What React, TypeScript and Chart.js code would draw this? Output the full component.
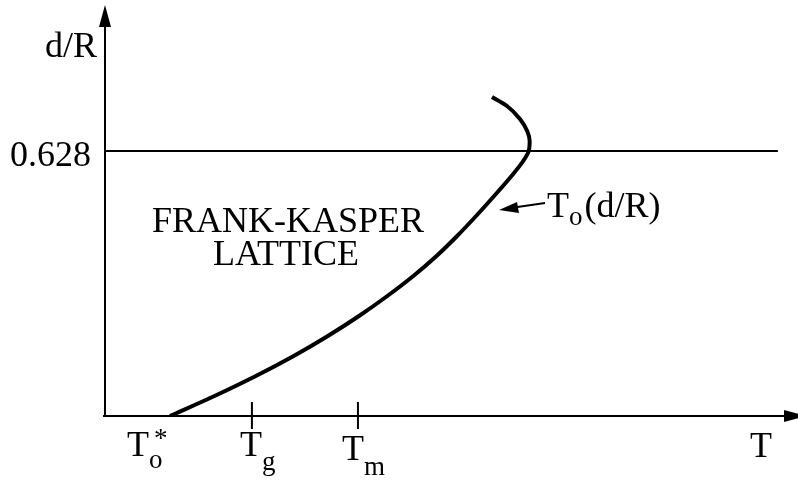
import React, { useEffect, useRef } from "react";
import { Chart, registerables } from "chart.js";

Chart.register(...registerables);

// Ordering temperature curve T_o(d/R): temperature (arbitrary units) vs. d/R
const curveT = [9.38, 15.8, 21.77, 27.23, 32.16, 36.65, 40.74, 44.49, 47.84, 50.81, 53.55, 56.15, 58.66, 60.35, 61.14, 61.28, 60.92, 59.88, 58.01, 55.84];
const curveDR = [0.0, 0.0474, 0.0948, 0.1422, 0.1896, 0.237, 0.2844, 0.3318, 0.3792, 0.4266, 0.474, 0.5214, 0.5688, 0.6043, 0.628, 0.6517, 0.6754, 0.7038, 0.7347, 0.756];

// Characteristic temperatures marked on the T axis
const tickNames = ["T_o*", "T_g", "T_m"];
const tickT = [9.38, 21.2, 36.5];
const tickMarked = [false, true, true];

// Critical ratio drawn as a horizontal line
const criticalDR = 0.628;
const criticalLabel = "0.628";

const T_MAX = 100;
const DR_MAX = 0.974;

const SERIF = '"Liberation Serif", "Times New Roman", serif';

function text(
  ctx: CanvasRenderingContext2D,
  s: string,
  x: number,
  y: number,
  size: number,
  align: CanvasTextAlign = "left"
) {
  ctx.save();
  ctx.font = `${size}px ${SERIF}`;
  ctx.textAlign = align;
  ctx.textBaseline = "alphabetic";
  ctx.fillStyle = "#000";
  ctx.fillText(s, x, y);
  const w = ctx.measureText(s).width;
  ctx.restore();
  return w;
}

function triangle(ctx: CanvasRenderingContext2D, pts: number[][]) {
  ctx.beginPath();
  ctx.moveTo(pts[0][0], pts[0][1]);
  for (let i = 1; i < pts.length; i++) ctx.lineTo(pts[i][0], pts[i][1]);
  ctx.closePath();
  ctx.fill();
}

const diagramPlugin = {
  id: "diagram",
  beforeDatasetsDraw(chart: any) {
    const ctx: CanvasRenderingContext2D = chart.ctx;
    const xs = chart.scales.x;
    const ys = chart.scales.y;
    const x0 = xs.getPixelForValue(0);
    const y0 = ys.getPixelForValue(0);
    ctx.save();
    ctx.strokeStyle = "#000";
    ctx.fillStyle = "#000";
    ctx.lineWidth = 2;
    ctx.lineCap = "butt";

    // d/R axis with arrow
    ctx.beginPath();
    ctx.moveTo(x0, y0 + 1);
    ctx.lineTo(x0, chart.chartArea.top + 12);
    ctx.stroke();
    const yt = chart.chartArea.top;
    triangle(ctx, [[x0, yt], [x0 - 6, yt + 22], [x0 + 6, yt + 22]]);

    // T axis with arrow
    ctx.beginPath();
    ctx.moveTo(x0 - 2, y0);
    ctx.lineTo(chart.chartArea.right - 10, y0);
    ctx.stroke();
    const xr = chart.chartArea.right + 8;
    triangle(ctx, [[xr, y0], [xr - 22, y0 - 6], [xr - 22, y0 + 6]]);

    // critical d/R line
    const yc = ys.getPixelForValue(criticalDR);
    ctx.beginPath();
    ctx.moveTo(x0, yc);
    ctx.lineTo(xs.getPixelForValue(97.1), yc);
    ctx.stroke();

    // tick marks for T_g and T_m
    tickT.forEach((t, i) => {
      if (!tickMarked[i]) return;
      const px = xs.getPixelForValue(t);
      ctx.beginPath();
      ctx.moveTo(px, y0 - 14);
      ctx.lineTo(px, y0 + 13);
      ctx.stroke();
    });
    ctx.restore();
  },
  afterDatasetsDraw(chart: any) {
    const ctx: CanvasRenderingContext2D = chart.ctx;
    const xs = chart.scales.x;
    const ys = chart.scales.y;
    const x0 = xs.getPixelForValue(0);
    const y0 = ys.getPixelForValue(0);
    const yc = ys.getPixelForValue(criticalDR);

    // axis titles
    text(ctx, "d/R", x0 - 8, 57, 36, "right");
    text(ctx, "T", chart.chartArea.right - 37, y0 + 41, 36, "center");
    text(ctx, criticalLabel, x0 - 14, yc + 15, 36, "right");

    // region label
    const cx = xs.getPixelForValue(26.4);
    text(ctx, "FRANK-KASPER", cx, 232, 36, "center");
    text(ctx, "LATTICE", cx - 2, 265, 36, "center");

    // curve label with arrow
    ctx.save();
    ctx.strokeStyle = "#000";
    ctx.fillStyle = "#000";
    ctx.lineWidth = 2;
    ctx.beginPath();
    ctx.moveTo(545, 203);
    ctx.lineTo(514, 207.5);
    ctx.stroke();
    triangle(ctx, [[499, 210], [517, 202], [519, 213]]);
    ctx.restore();
    let lx = 547;
    lx += text(ctx, "T", lx, 217, 36);
    lx += text(ctx, "o", lx, 225, 27);
    text(ctx, "(d/R)", lx + 2, 217, 36);

    // tick labels: T with subscript
    tickNames.forEach((name, i) => {
      const px = xs.getPixelForValue(tickT[i]);
      const m = name.match(/^T_(\w)(\*?)$/);
      if (!m) return;
      const sub = m[1];
      const star = m[2];
      let start: number, base: number, subBase: number;
      if (i === 0) {
        start = px - 43; base = 456; subBase = 468;
      } else if (sub === "g") {
        start = px - 12; base = 456; subBase = 470;
      } else {
        start = px - 16; base = 460; subBase = 475;
      }
      const wT = text(ctx, "T", start, base, 36);
      text(ctx, sub, start + wT, subBase, 27);
      if (star) text(ctx, "*", start + wT + 5, 447, 27);
    });
  },
};

export default function App() {
  const ref = useRef<HTMLCanvasElement | null>(null);

  useEffect(() => {
    if (!ref.current) return;
    const points = curveT.map((t, i) => ({ x: t, y: curveDR[i] }));
    const chart = new Chart(ref.current, {
      type: "line",
      data: {
        datasets: [
          {
            data: points,
            borderColor: "#000",
            borderWidth: 4,
            pointRadius: 0,
            cubicInterpolationMode: "monotone",
            fill: false,
          },
        ],
      },
      options: {
        indexAxis: "y",
        responsive: false,
        animation: false,
        events: [],
        layout: { padding: { left: 105, right: 0, top: 5, bottom: 64 } },
        plugins: { legend: { display: false }, tooltip: { enabled: false } },
        scales: {
          x: { type: "linear", min: 0, max: T_MAX, display: false },
          y: { type: "linear", min: 0, max: DR_MAX, display: false },
        },
      },
      plugins: [diagramPlugin],
    });
    return () => chart.destroy();
  }, []);

  return (
    <canvas
      ref={ref}
      width={798}
      height={480}
      style={{ position: "absolute", left: 0, top: 0, background: "#fff" }}
    />
  );
}
